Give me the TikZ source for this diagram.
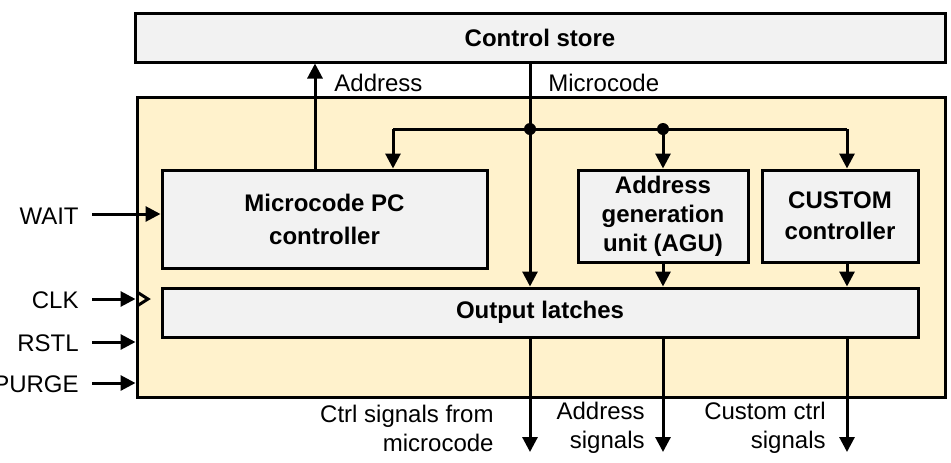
\documentclass[tikz,border=0pt]{standalone}
\usepackage{fontspec}
\setmainfont{Liberation Sans}
\usetikzlibrary{arrows.meta,positioning}
\definecolor{coreyellow}{HTML}{FFF2CC}
\definecolor{boxgray}{HTML}{F2F2F2}
\tikzset{
  blk/.style={draw=black, line width=1.5pt, fill=boxgray, font=\fontsize{12}{14.5}\selectfont\bfseries, align=center, inner sep=0pt},
  sig/.style={line width=1.5pt, -{Triangle[length=7.5pt,width=7.5pt]}},
  lbl/.style={inner sep=0pt, align=right},
}

\begin{document}
\begin{tikzpicture}[x=0.5pt,y=-0.5pt,font=\fontsize{12}{14.5}\selectfont]
        \useasboundingbox (0,0) rectangle (951,462);
        % blocks
        \node[draw=black, line width=1.5pt, fill=coreyellow, minimum width=404pt, minimum height=150pt] (core) at (541,247) {};
        \node[blk, minimum width=405pt, minimum height=24.5pt] (store) at (540,37.5) {Control store};
        \node[blk, minimum width=162.5pt, minimum height=49pt] (upc) at (324.5,219) {Microcode PC\\[2pt]controller};
        \node[blk, minimum width=85pt, minimum height=46pt] (agu) at (663,216) {Address\\generation\\unit (AGU)};
        \node[blk, minimum width=78pt, minimum height=46pt] (custom) at (840,216) {CUSTOM\\[1pt]controller};
        \node[blk, minimum width=378pt, minimum height=24.5pt] (latch) at (540,312.5) {Output latches};
        % bus
        \coordinate (addr) at (315,0);
        \coordinate (j1) at (530,129);
        \coordinate (j2) at (663,129);
        \coordinate (busl) at (393,129);
        \coordinate (busr) at (847,129);
        \coordinate (outend) at (0,452);
        \draw[sig] (addr |- upc.north) -- (addr |- store.south);
        \draw[sig] (j1 |- store.south) -- (j1 |- latch.north);
        \draw[line width=1.5pt] (busl) -- (busr);
        \draw[sig] (busl) -- (busl |- upc.north);
        \draw[sig] (j2) -- (agu.north);
        \draw[sig] (busr) -- (busr |- custom.north);
        \fill (j1) circle (3pt);
        \fill (j2) circle (3pt);
        \node[lbl, anchor=west] (addr-lbl) at (334,83) {Address};
        \node[lbl, anchor=west] (mc-lbl) at (548,83) {Microcode};
        % into latches
        \draw[sig] (agu.south) -- (agu.south |- latch.north);
        \draw[sig] (busr |- custom.south) -- (busr |- latch.north);
        % outputs
        \foreach \Src/\Txt/\Xpos in {j1/{Ctrl signals from\\microcode}/494, j2/{Address\\signals}/645, busr/{Custom ctrl\\signals}/826}
        {
          \draw[sig] (\Src |- latch.south) -- (\Src |- outend);
          \node[lbl, anchor=east] (\Src-out) at (\Xpos,428) {\Txt};
        }
        % inputs
        \node[lbl, anchor=east] (wait-lbl) at (79,216) {WAIT};
        \coordinate (wait) at (92,214);
        \draw[sig] (wait) -- (wait -| upc.west);
        \foreach \Name/\Ypos/\Txt in {clk/299/CLK, rstl/342/RSTL, purge/383/PURGE}
        {
          \node[lbl, anchor=east] (\Name-lbl) at (79,\Ypos+1) {\Txt};
          \coordinate (\Name) at (92,\Ypos);
          \draw[sig] (\Name) -- (\Name -| core.west);
        }
        \draw[line width=1.5pt] (137,292) -- (148,299) -- (137,306);
\end{tikzpicture}
\end{document}
